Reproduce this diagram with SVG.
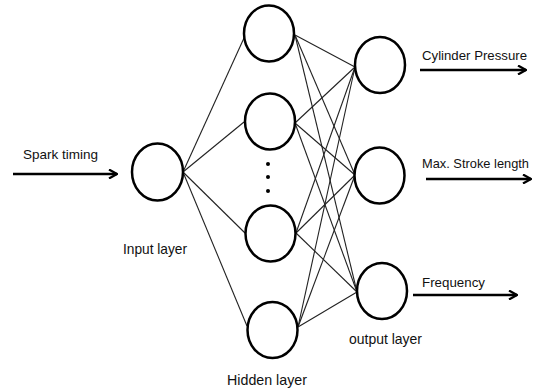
<svg xmlns="http://www.w3.org/2000/svg" width="534" height="391" viewBox="0 0 534 391">
<defs>
<style>
.node{fill:#fff;stroke:#000;stroke-width:2.5}
.edge{stroke:#222;stroke-width:1.1;fill:none}
.arrow{stroke:#000;stroke-width:2.5;fill:none;marker-end:url(#ah)}
.lbl{font-family:"Liberation Sans",Arial,sans-serif;font-size:13.5px;fill:#111}
.layer{font-family:"Liberation Sans",Arial,sans-serif;font-size:15px;fill:#111}
</style>
<marker id="ah" viewBox="0 0 10 10" refX="9" refY="5" markerWidth="10" markerHeight="10" markerUnits="userSpaceOnUse" orient="auto">
<path d="M1,0.5 L9,5 L1,9.5" fill="none" stroke="#000" stroke-width="2.2"/>
</marker>
</defs>
<rect width="534" height="391" fill="#fff"/>
<g id="connectors">
<line class="edge" x1="183" y1="172" x2="244" y2="38"/>
<line class="edge" x1="183" y1="172" x2="244" y2="122"/>
<line class="edge" x1="183" y1="172" x2="245" y2="233"/>
<line class="edge" x1="183" y1="172" x2="247" y2="326"/>
<line class="edge" x1="295" y1="35" x2="355" y2="67"/>
<line class="edge" x1="295" y1="35" x2="355" y2="175"/>
<line class="edge" x1="295" y1="35" x2="357" y2="292"/>
<line class="edge" x1="295" y1="123" x2="355" y2="67"/>
<line class="edge" x1="295" y1="123" x2="355" y2="175"/>
<line class="edge" x1="295" y1="123" x2="357" y2="292"/>
<line class="edge" x1="296" y1="233" x2="355" y2="67"/>
<line class="edge" x1="296" y1="233" x2="355" y2="175"/>
<line class="edge" x1="296" y1="233" x2="357" y2="292"/>
<line class="edge" x1="298" y1="327" x2="355" y2="67"/>
<line class="edge" x1="298" y1="327" x2="355" y2="175"/>
<line class="edge" x1="298" y1="327" x2="357" y2="292"/>
<line class="arrow" x1="13" y1="174" x2="117" y2="174"/>
<line class="arrow" x1="420" y1="70" x2="526" y2="70"/>
<line class="arrow" x1="426" y1="179" x2="531" y2="179"/>
<line class="arrow" x1="413" y1="295" x2="517" y2="295"/>
</g>
<g id="input">
<ellipse class="node" cx="157.5" cy="172" rx="25.5" ry="28.5"/>
</g>
<g id="hidden1">
<ellipse class="node" cx="269" cy="33.5" rx="25" ry="28"/>
</g>
<g id="hidden2">
<ellipse class="node" cx="270" cy="121.5" rx="25" ry="28"/>
</g>
<g id="hidden3">
<ellipse class="node" cx="270.5" cy="233.5" rx="25" ry="28"/>
</g>
<g id="hidden4">
<ellipse class="node" cx="272.5" cy="330" rx="25" ry="28"/>
</g>
<g id="dots" fill="#000">
<circle cx="268" cy="164" r="2"/>
<circle cx="268" cy="177" r="2"/>
<circle cx="268" cy="191" r="2"/>
</g>
<g id="output1">
<ellipse class="node" cx="380" cy="65" rx="25" ry="28"/>
</g>
<g id="output2">
<ellipse class="node" cx="379.5" cy="175.5" rx="25" ry="28"/>
</g>
<g id="output3">
<ellipse class="node" cx="382" cy="291" rx="25" ry="28"/>
</g>
<g id="labels">
<text class="lbl" x="23" y="159" textLength="75" lengthAdjust="spacingAndGlyphs">Spark timing</text>
<text class="lbl" x="422" y="60" textLength="105" lengthAdjust="spacingAndGlyphs">Cylinder Pressure</text>
<text class="lbl" x="422" y="168" textLength="107" lengthAdjust="spacingAndGlyphs">Max. Stroke length</text>
<text class="lbl" x="422" y="287" textLength="63" lengthAdjust="spacingAndGlyphs">Frequency</text>
<text class="layer" x="123" y="254" textLength="64" lengthAdjust="spacingAndGlyphs">Input layer</text>
<text class="layer" x="227" y="385" textLength="80" lengthAdjust="spacingAndGlyphs">Hidden layer</text>
<text class="layer" x="349" y="344" textLength="73" lengthAdjust="spacingAndGlyphs">output layer</text>
</g>
</svg>
